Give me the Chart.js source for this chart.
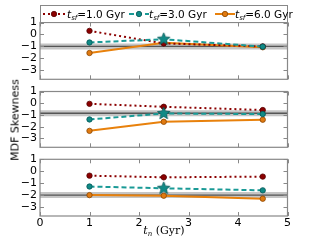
<!DOCTYPE html>
<html><head><meta charset="utf-8">
<script src="https://cdn.jsdelivr.net/npm/chart.js@4"></script>
<style>
html,body{margin:0;padding:0;background:#fff;}
#wrap{position:relative;width:320px;height:240px;overflow:hidden;font-family:"DejaVu Sans",sans-serif;}
canvas{position:absolute;left:0;top:0;}
#legend{position:absolute;left:40px;top:5px;width:246px;height:16px;border:1px solid #888;background:#fff;font-size:10.5px;color:#000;z-index:5;}
.ent{position:absolute;top:0;height:16px;line-height:16px;white-space:nowrap;}
.ent svg{position:absolute;top:3px;left:0;}
.ent span{position:absolute;top:0;}
sub{font-size:7px;vertical-align:-2px;font-style:italic;}
#ylab{position:absolute;left:15px;top:120px;transform:translate(-50%,-50%) rotate(-90deg);font-size:11px;white-space:nowrap;color:#000;}
#xlab{position:absolute;left:164px;top:224px;transform:translateX(-50%);font-size:11px;white-space:nowrap;font-family:"DejaVu Serif",serif;}
</style></head>
<body><div id="wrap">
<canvas id="c1" width="320" height="240"></canvas>
<canvas id="c2" width="320" height="240"></canvas>
<canvas id="c3" width="320" height="240"></canvas>
<div id="legend">
 <div class="ent" style="left:2px"><svg width="22" height="10"><line x1="0" y1="5" x2="22" y2="5" stroke="#8b0000" stroke-width="2" stroke-dasharray="2,3"/><circle cx="11" cy="5" r="2.7" fill="#8b0000" stroke="#500" stroke-width="0.8"/></svg><span style="left:24px"><i>t</i><sub>sf</sub>=1.0 Gyr</span></div>
 <div class="ent" style="left:88px"><svg width="20" height="10"><line x1="0" y1="5" x2="20" y2="5" stroke="#1a9a96" stroke-width="2" stroke-dasharray="5,3"/><circle cx="10" cy="5" r="2.7" fill="#108a86" stroke="#055" stroke-width="0.8"/></svg><span style="left:20px"><i>t</i><sub>sf</sub>=3.0 Gyr</span></div>
 <div class="ent" style="left:174px"><svg width="20" height="10"><line x1="0" y1="5" x2="20" y2="5" stroke="#e8810c" stroke-width="2"/><circle cx="10" cy="5" r="2.7" fill="#e07a10" stroke="#8a4500" stroke-width="0.8"/></svg><span style="left:20px"><i>t</i><sub>sf</sub>=6.0 Gyr</span></div>
</div>
<div id="ylab">MDF Skewness</div>
<div id="xlab"><i>t</i><sub style="font-size:7px">n</sub> (Gyr)</div>
</div>
<script>
// ---- data ----
const xVals = [1, 2.5, 4.5];
const xTicks = [0, 1, 2, 3, 4, 5];
const yTicks = [1, 0, -1, -2, -3];
const bandX = [0, 5];

const p1Red = [0.3, -0.75, -1.0];
const p1Teal = [-0.67, -0.4, -1.02];
const p1Orange = [-1.55, -0.7, -1.07];
const p1Ref = -1.0;

const p2Red = [-0.05, -0.3, -0.58];
const p2Teal = [-1.38, -0.87, -0.92];
const p2Orange = [-2.35, -1.58, -1.4];
const p2Ref = -0.85;

const p3Red = [-0.37, -0.51, -0.45];
const p3Teal = [-1.28, -1.43, -1.6];
const p3Orange = [-2.0, -2.05, -2.3];
const p3Ref = -2.0;

// ---- styling ----
const RED = '#8b0000', TEAL = '#1a9a96', ORANGE = '#e8810c';
const FONT = {family: 'DejaVu Sans', size: 11};

function makeStar(r, fill, stroke) {
  const c = document.createElement('canvas');
  const s = Math.ceil(r * 2 + 2);
  c.width = s; c.height = s;
  const g = c.getContext('2d');
  g.beginPath();
  for (let i = 0; i < 10; i++) {
    const rad = i % 2 === 0 ? r : r * 0.45;
    const a = -Math.PI / 2 + i * Math.PI / 5;
    const px = s / 2 + rad * Math.cos(a), py = s / 2 + rad * Math.sin(a);
    if (i === 0) g.moveTo(px, py); else g.lineTo(px, py);
  }
  g.closePath();
  g.fillStyle = fill; g.fill();
  g.strokeStyle = stroke; g.lineWidth = 0.8; g.stroke();
  return c;
}
const star = makeStar(6.5, '#108a86', '#055');

const frame = {
  id: 'frame',
  afterDraw(chart) {
    const {ctx, chartArea: a, scales} = chart;
    ctx.save();
    ctx.strokeStyle = '#888';
    ctx.lineWidth = 1.2;
    ctx.strokeRect(a.left, a.top, a.right - a.left, a.bottom - a.top);
    ctx.lineWidth = 1;
    ctx.beginPath();
    const L = 4;
    xTicks.forEach(v => {
      const px = Math.round(scales.x.getPixelForValue(v)) + 0.5;
      ctx.moveTo(px, a.bottom); ctx.lineTo(px, a.bottom - L);
      ctx.moveTo(px, a.top); ctx.lineTo(px, a.top + L);
    });
    yTicks.forEach(v => {
      const py = Math.round(scales.y.getPixelForValue(v)) + 0.5;
      ctx.moveTo(a.left, py); ctx.lineTo(a.left + L, py);
      ctx.moveTo(a.right, py); ctx.lineTo(a.right - L, py);
    });
    ctx.stroke();
    ctx.restore();
  }
};

function pts(arr) { return arr.map((v, i) => ({x: xVals[i], y: v})); }
function band(v) { return bandX.map(x => ({x, y: v})); }

function makeChart(id, red, teal, orange, ref, top, bottom, showX) {
  new Chart(document.getElementById(id), {
    type: 'line',
    data: {
      datasets: [
        {data: band(ref), borderColor: 'rgba(150,150,150,0.55)', borderWidth: 6, pointRadius: 0, order: 10},
        {data: band(ref), borderColor: '#555', borderWidth: 1.3, pointRadius: 0, order: 9},
        {data: pts(orange), borderColor: ORANGE, borderWidth: 2, pointRadius: 2.7,
         pointBackgroundColor: '#e07a10', pointBorderColor: '#8a4500', pointBorderWidth: 0.8, order: 3},
        {data: pts(teal), borderColor: TEAL, borderWidth: 2, borderDash: [5, 3], pointRadius: 2.7,
         pointStyle: ['circle', star, 'circle'],
         pointBackgroundColor: '#108a86', pointBorderColor: '#055', pointBorderWidth: 0.8, order: 1},
        {data: pts(red), borderColor: RED, borderWidth: 2, borderDash: [2, 3], pointRadius: 2.7,
         pointBackgroundColor: RED, pointBorderColor: '#500', pointBorderWidth: 0.8, order: 2}
      ]
    },
    options: {
      responsive: false, animation: false, devicePixelRatio: 1,
      layout: {padding: {top, bottom, left: 0, right: 32.5}},
      plugins: {legend: {display: false}, tooltip: {enabled: false}},
      scales: {
        x: {type: 'linear', min: 0, max: 5,
            grid: {display: false, drawTicks: false}, border: {display: false},
            afterBuildTicks: s => { s.ticks = xTicks.map(v => ({value: v})); },
            afterFit: s => { s.height = showX ? 24 : 0; },
            ticks: {display: showX, autoSkip: false, color: '#000', font: FONT, padding: 1, maxRotation: 0}},
        y: {type: 'linear', min: -3.75, max: 1,
            grid: {display: false, drawTicks: false}, border: {display: false},
            afterBuildTicks: s => { s.ticks = yTicks.map(v => ({value: v})); },
            afterFit: s => { s.width = 40; },
            ticks: {autoSkip: false, color: '#000', font: FONT, padding: 3,
                    callback: v => v < 0 ? '\u2212' + Math.abs(v) : String(v)}}
      }
    },
    plugins: [frame]
  });
}

makeChart('c1', p1Red, p1Teal, p1Orange, p1Ref, 22.5, 160.7, false);
makeChart('c2', p2Red, p2Teal, p2Orange, p2Ref, 91.5, 92.7, false);
makeChart('c3', p3Red, p3Teal, p3Orange, p3Ref, 159.3, 0, true);
</script>
</body></html>
